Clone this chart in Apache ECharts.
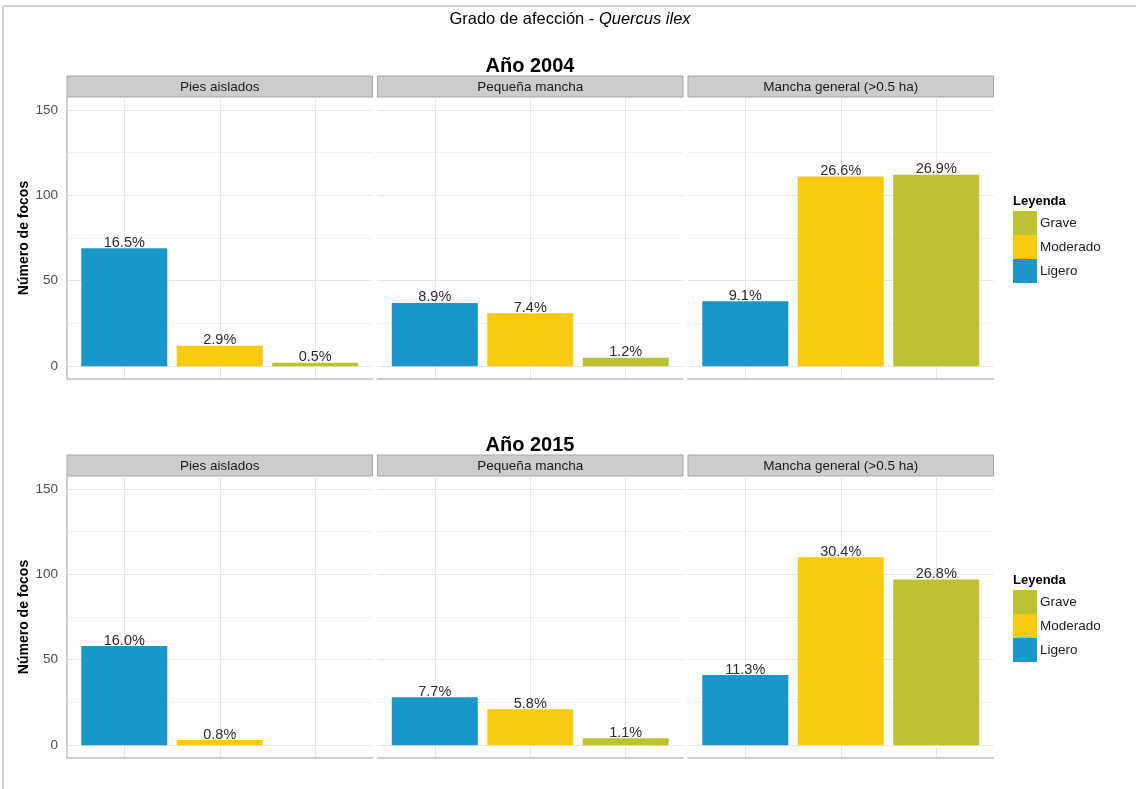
<!DOCTYPE html>
<html>
<head>
<meta charset="utf-8">
<script src="https://cdn.jsdelivr.net/npm/echarts@6/dist/echarts.min.js"></script>
<style>
html,body{margin:0;padding:0;background:#fff;}
#chart{width:1136px;height:789px;}
</style>
</head>
<body>
<div id="chart"></div>
<script>
// ---- data ----
const categories = ['Ligero', 'Moderado', 'Grave'];
const legendOrder = ['Grave', 'Moderado', 'Ligero'];
const facets = ['Pies aislados', 'Pequeña mancha', 'Mancha general (>0.5 ha)'];
const years = ['Año 2004', 'Año 2015'];
const yTicks = [0, 50, 100, 150];
const yMinorTicks = [25, 75, 125];

const v2004_pies = [69, 12, 2];
const v2004_pequena = [37, 31, 5];
const v2004_mancha = [38, 111, 112];
const v2015_pies = [58, 3, 0];
const v2015_pequena = [28, 21, 4];
const v2015_mancha = [41, 110, 97];

const p2004_pies = ['16.5%', '2.9%', '0.5%'];
const p2004_pequena = ['8.9%', '7.4%', '1.2%'];
const p2004_mancha = ['9.1%', '26.6%', '26.9%'];
const p2015_pies = ['16.0%', '0.8%', ''];
const p2015_pequena = ['7.7%', '5.8%', '1.1%'];
const p2015_mancha = ['11.3%', '30.4%', '26.8%'];

const values = [[v2004_pies, v2004_pequena, v2004_mancha], [v2015_pies, v2015_pequena, v2015_mancha]];
const pcts = [[p2004_pies, p2004_pequena, p2004_mancha], [p2015_pies, p2015_pequena, p2015_mancha]];

// ---- styles ----
const colors = { Ligero: '#1b96c9', Moderado: '#fac912', Grave: '#bdc233' };
const FONT = '"Liberation Sans", Arial, sans-serif';
const panelLeft = [67, 377.5, 688];
const panelWidth = 305.5;
const panelTop = [97, 476];
const panelHeight = 282;
const stripH = 21;
const gridMajor = '#e6e6e6';
const gridMinor = '#f3f3f3';
const axisCol = '#bfbfbf';

const grid = [], xAxis = [], yAxis = [], series = [], graphic = [];

for (let r = 0; r < 2; r++) {
  for (let c = 0; c < 3; c++) {
    const gi = r * 3 + c;
    grid.push({ left: panelLeft[c], top: panelTop[r], width: panelWidth, height: panelHeight, containLabel: false });
    xAxis.push({
      type: 'value', gridIndex: gi, min: 0.4, max: 3.6,
      axisLine: { show: true, onZero: false, lineStyle: { color: axisCol, width: 1.5 } },
      axisTick: { show: false, customValues: [1, 2, 3] },
      axisLabel: { show: false, customValues: [1, 2, 3] },
      splitLine: { show: true, lineStyle: { color: gridMajor, width: 1 } }
    });
    yAxis.push({
      type: 'value', gridIndex: gi, min: -7.5, max: 157.5, position: 'left',
      name: c === 0 ? 'Número de focos' : '',
      nameLocation: 'middle', nameGap: 29, nameRotate: 90,
      nameTextStyle: { fontFamily: FONT, fontSize: 14, fontWeight: 'bold', color: '#000' },
      axisLine: { show: c === 0, onZero: false, lineStyle: { color: axisCol, width: 1.5 } },
      axisTick: { show: false, customValues: yTicks },
      axisLabel: { show: c === 0, customValues: yTicks, color: '#4d4d4d', fontSize: 13.5, fontFamily: FONT, margin: 9 },
      splitLine: { show: true, lineStyle: { color: gridMajor, width: 1 } }
    });
    yAxis.push({
      type: 'value', gridIndex: gi, min: -7.5, max: 157.5, position: 'left',
      axisLine: { show: false },
      axisTick: { show: false, customValues: yMinorTicks },
      axisLabel: { show: false, customValues: yMinorTicks },
      splitLine: { show: true, lineStyle: { color: gridMinor, width: 1 } }
    });
    for (let k = 0; k < 3; k++) {
      const name = categories[k];
      const pct = pcts[r][c][k];
      series.push({
        name: name, type: 'bar',
        xAxisIndex: gi, yAxisIndex: gi * 2,
        barWidth: 86, barGap: '-100%',
        itemStyle: { color: colors[name] },
        label: {
          show: pct !== '', position: 'top', distance: 0, offset: [0, 2],
          formatter: () => pct,
          fontFamily: FONT, fontSize: 14.5, color: '#2b2b2b'
        },
        data: [[k + 1, values[r][c][k]]],
        animation: false
      });
    }
    // facet strip
    graphic.push({
      type: 'rect', silent: true,
      shape: { x: panelLeft[c], y: panelTop[r] - stripH, width: panelWidth, height: stripH },
      style: { fill: '#cccccc', stroke: '#a6a6a6', lineWidth: 1 }
    });
    graphic.push({
      type: 'text', silent: true,
      x: panelLeft[c] + panelWidth / 2, y: panelTop[r] - stripH / 2 + 1,
      style: { text: facets[c], fill: '#1a1a1a', font: '13.5px ' + FONT, textAlign: 'center', textVerticalAlign: 'middle' }
    });
  }
  // row title
  graphic.push({
    type: 'text', silent: true,
    x: 530, y: panelTop[r] - 31,
    style: { text: years[r], fill: '#000', font: 'bold 20px ' + FONT, textAlign: 'center', textVerticalAlign: 'middle' }
  });
  graphic.push({
    type: 'text', silent: true,
    x: 1013, y: panelTop[r] + 104,
    style: { text: 'Leyenda', fill: '#000', font: 'bold 13px ' + FONT, textAlign: 'left', textVerticalAlign: 'middle' }
  });
}

// main title and frame lines
graphic.push({
  type: 'text', silent: true, x: 570, y: 19,
  style: {
    text: '{n|Grado de afección - }{i|Quercus ilex}',
    textAlign: 'center', textVerticalAlign: 'middle',
    rich: {
      n: { font: '16.5px ' + FONT, fill: '#000' },
      i: { font: 'italic 16.5px ' + FONT, fill: '#000' }
    }
  }
});
graphic.push({ type: 'line', silent: true, shape: { x1: 3, y1: 6, x2: 1136, y2: 6 }, style: { stroke: '#c0c0c0', lineWidth: 1.5 } });
graphic.push({ type: 'line', silent: true, shape: { x1: 3, y1: 6, x2: 3, y2: 789 }, style: { stroke: '#c0c0c0', lineWidth: 1.5 } });

const legendBase = {
  orient: 'vertical', left: 1013, itemWidth: 24, itemHeight: 24, itemGap: 0,
  padding: 0,
  icon: 'rect', data: legendOrder, selectedMode: false,
  textStyle: { fontFamily: FONT, fontSize: 13.5, color: '#1a1a1a', padding: [0, 0, 0, -2] }
};

const option = {
  backgroundColor: '#ffffff',
  animation: false,
  grid: grid, xAxis: xAxis, yAxis: yAxis, series: series,
  legend: [Object.assign({ top: 211 }, legendBase), Object.assign({ top: 590 }, legendBase)],
  graphic: graphic
};

const chart = echarts.init(document.getElementById('chart'), null, { renderer: 'canvas' });
chart.setOption(option);
</script>
</body>
</html>
